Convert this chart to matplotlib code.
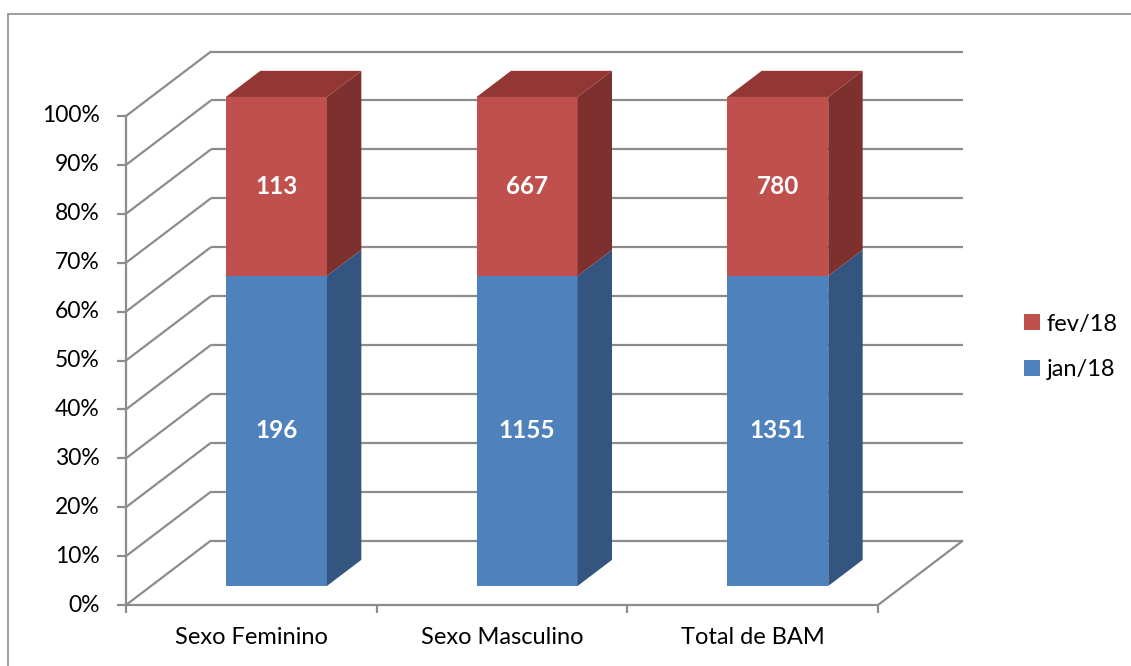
import matplotlib
matplotlib.use("Agg")
import matplotlib.pyplot as plt
from matplotlib.patches import Polygon, Rectangle, Patch
import numpy as np

plt.rcParams['font.family'] = ['Lato', 'DejaVu Sans']

# values shown in the chart
categories = ['Sexo Feminino', 'Sexo Masculino', 'Total de BAM']
series_names = ['jan/18', 'fev/18']
jan18 = [196, 1155, 1351]
fev18 = [113, 667, 780]
y_ticks = [0, 10, 20, 30, 40, 50, 60, 70, 80, 90, 100]

front_colors = ['#4F81BD', '#C0504D']
side_colors = ['#33557F', '#7D302E']
top_colors = ['#3E6494', '#933735']
grid_col = '#8C8C8C'

W, H = 1131, 666
fig = plt.figure(figsize=(W / 100, H / 100), dpi=100)
ax = fig.add_axes([0, 0, 1, 1])
ax.set_axis_off()

# x in category units, y in percent; front plane pixel mapping
x0_px, cat_px = 126.0, 250.67
y0_px, pct_px = 605.0, 4.89
ax.set_xlim(-x0_px / cat_px, (W - x0_px) / cat_px)
ax.set_ylim((y0_px - H) / pct_px, y0_px / pct_px)

# depth offset of the back wall
DX = 85 / cat_px
DY = 64.5 / pct_px
n = len(categories)

def lines(xs, ys, **kw):
    ax.plot(xs, ys, color=grid_col, lw=1.6, solid_capstyle='butt', **kw)

# back wall gridlines and left wall diagonals
for t in y_ticks:
    lines([DX, n + DX], [t + DY, t + DY], zorder=1)
    lines([0, DX], [t, t + DY], zorder=1)
    lines([-0.035, 0], [t, t], zorder=1)
    ax.text(-0.105, t, f'{t}%', ha='right', va='center', fontsize=16.5, color='#000000')

# floor and value axis
lines([0, n], [0, 0], zorder=1)
lines([n, n + DX], [0, DY], zorder=1)
lines([0, 0], [0, 100], zorder=1)
for i in range(n + 1):
    lines([i, i], [0, -1.6], zorder=1)
for i, c in enumerate(categories):
    ax.text(i + 0.5, -6.6, c, ha='center', va='center', fontsize=17, color='#000000')

# 100% stacked bars with a 3D look
totals = np.array(jan18) + np.array(fev18)
bw = 101 / cat_px
d_front, d_back = 0.295, 0.70
for i in range(n):
    vals = [jan18[i], fev18[i]]
    fracs = np.array(vals) / totals[i] * 100
    cx = i + 0.5
    xl = cx - bw / 2 + d_front * DX
    xr = cx + bw / 2 + d_front * DX
    oy = d_front * DY
    ddx = (d_back - d_front) * DX
    ddy = (d_back - d_front) * DY
    base = 0.0
    for s in range(2):
        lo, hi = base + oy, base + fracs[s] + oy
        ax.add_patch(Polygon([[xl, lo], [xr, lo], [xr, hi], [xl, hi]],
                             closed=True, fc=front_colors[s], ec='none', zorder=3))
        ax.add_patch(Polygon([[xr, lo], [xr + ddx, lo + ddy], [xr + ddx, hi + ddy], [xr, hi]],
                             closed=True, fc=side_colors[s], ec='none', zorder=3))
        if s == 1:
            ax.add_patch(Polygon([[xl, hi], [xr, hi], [xr + ddx, hi + ddy], [xl + ddx, hi + ddy]],
                                 closed=True, fc=top_colors[s], ec='none', zorder=3))
        ax.text((xl + xr) / 2, (lo + hi) / 2, f'{vals[s]}', ha='center', va='center',
                fontsize=17.5, fontweight='bold', color='white', zorder=4)
        base += fracs[s]

handles = [Patch(fc=front_colors[1], ec='none'), Patch(fc=front_colors[0], ec='none')]
fig.legend(handles, [series_names[1], series_names[0]], loc='center left',
           bbox_to_anchor=(1003 / W, 1 - 347 / H), frameon=False, fontsize=17,
           handlelength=0.65, handleheight=0.65, handletextpad=0.3, labelspacing=1.05)

# chart area border
fig.add_artist(Rectangle((8 / W, -0.1), 1.2, 1 - 14 / H + 0.1, transform=fig.transFigure,
                         fill=False, ec='#8C8C8C', lw=1.2))

fig.savefig('out.png', dpi=100)
